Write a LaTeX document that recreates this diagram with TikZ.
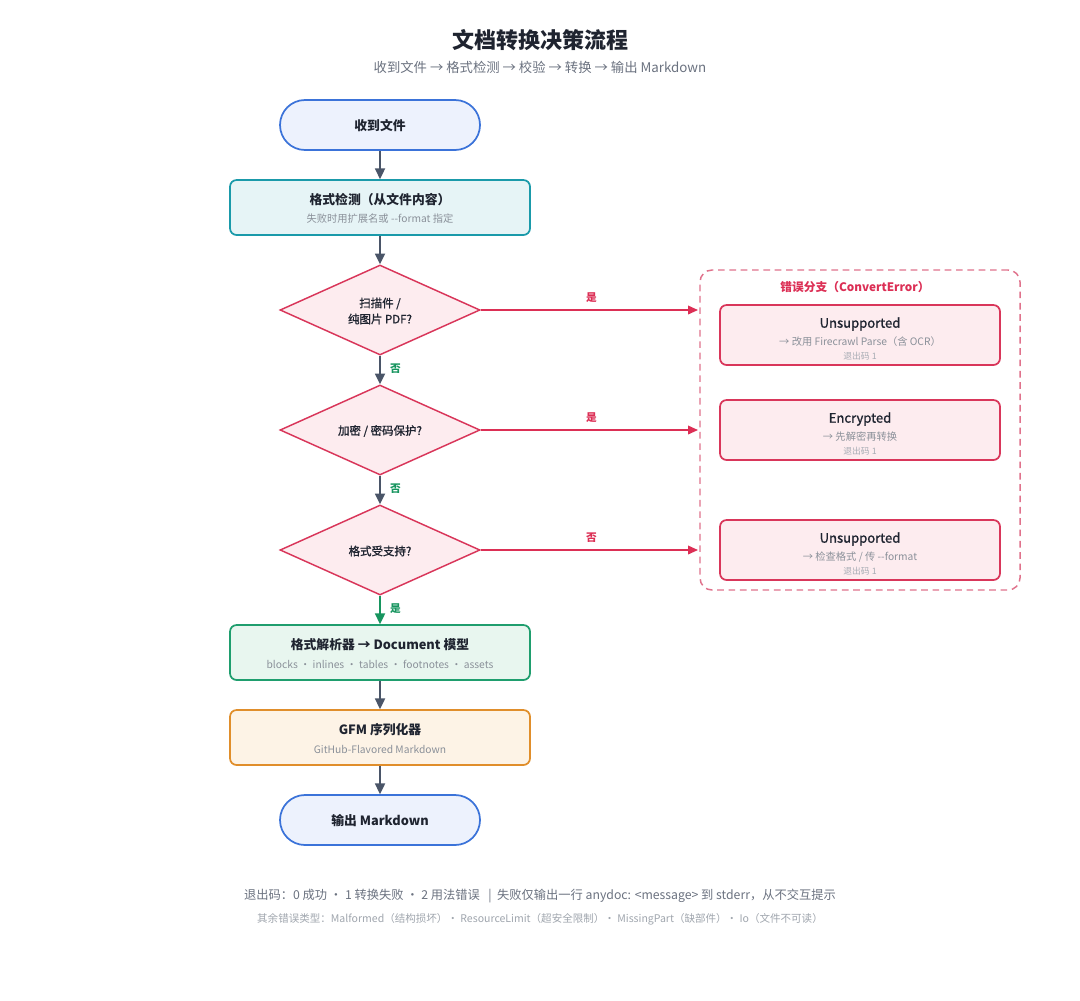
\documentclass[tikz,border=0pt]{standalone}
\usepackage{fontspec}
\setmainfont{Noto Sans CJK SC}
\newfontfamily\medfont[FakeBold=1.2]{Noto Sans CJK SC}
\usetikzlibrary{shapes.geometric,arrows.meta}
\definecolor{ink}{HTML}{1F2430}
\definecolor{subg}{HTML}{8A9099}
\definecolor{codeg}{HTML}{A8ADB5}
\definecolor{arrg}{HTML}{4A5568}
\definecolor{okg}{HTML}{17955F}
\definecolor{errr}{HTML}{DC2F55}
\definecolor{bluefill}{HTML}{EDF2FD}
\definecolor{blueline}{HTML}{3B73D9}
\definecolor{tealfill}{HTML}{E6F4F6}
\definecolor{tealline}{HTML}{1A9AAA}
\definecolor{pinkfill}{HTML}{FDECEF}
\definecolor{pinkline}{HTML}{D9365A}
\definecolor{greenfill}{HTML}{E8F6EF}
\definecolor{greenline}{HTML}{1F9E6E}
\definecolor{orfill}{HTML}{FDF3E6}
\definecolor{orline}{HTML}{E08E2B}
\definecolor{dashc}{HTML}{E0728C}
\definecolor{foot1}{HTML}{6B7280}
\definecolor{foot2}{HTML}{A0A6AE}
\tikzset{
  terminal/.style={draw=blueline,fill=bluefill,line width=1.3pt,rounded corners=18.75pt,minimum width=150pt,minimum height=37.5pt,inner sep=0pt},
  procbox/.style={line width=1.3pt,rounded corners=5pt,minimum width=225pt,minimum height=41.25pt,inner sep=0pt},
  decision/.style={draw=pinkline,fill=pinkfill,line width=1.1pt,diamond,aspect=2.22,minimum width=150pt,minimum height=67.5pt,inner sep=0pt},
  errbox/.style={draw=pinkline,fill=pinkfill,line width=1.3pt,rounded corners=5pt,minimum width=210pt,minimum height=45pt,inner sep=0pt},
  ttl/.style={text=ink,font=\bfseries\fontsize{9.6}{11}\selectfont,inner sep=0pt},
  ettl/.style={text=ink,font=\medfont\fontsize{9.8}{11}\selectfont,inner sep=0pt},
  subt/.style={text=subg,font=\fontsize{7.7}{9}\selectfont,inner sep=0pt},
  codet/.style={text=codeg,font=\fontsize{6.6}{8}\selectfont,inner sep=0pt},
  dtext/.style={text=ink,font=\medfont\fontsize{8.6}{12}\selectfont,align=center,inner sep=0pt},
  flow/.style={draw=arrg,line width=1.3pt,-{Triangle[length=8pt,width=7.5pt]}},
  okflow/.style={draw=okg,line width=1.3pt,-{Triangle[length=8pt,width=7.5pt]}},
  errflow/.style={draw=errr,line width=1.1pt,-{Triangle[length=7.5pt,width=6.5pt]}},
  oklab/.style={text=okg,font=\bfseries\fontsize{8}{9}\selectfont,inner sep=0pt},
  errlab/.style={text=errr,font=\bfseries\fontsize{8}{9}\selectfont,inner sep=0pt},
}
\begin{document}
\begin{tikzpicture}[x=0.75pt,y=-0.75pt]
\useasboundingbox[fill=white] (0,0) rectangle (1080,1000);
% title
\node[text=ink,font=\bfseries\fontsize{16.5}{19}\selectfont,inner sep=0pt] (title) at (540,40) {文档转换决策流程};
\node[text=foot1,font=\fontsize{10}{12}\selectfont,inner sep=0pt] (subtitle) at (540,67) {收到文件 → 格式检测 → 校验 → 转换 → 输出 Markdown};
% main column
\node[terminal] (start) at (380,125) {};
\node[ttl] (startT) at (380,126) {收到文件};
\node[procbox,draw=tealline,fill=tealfill] (detect) at (380,207.5) {};
\node[ttl] (detectT) at (380,200) {格式检测（从文件内容）};
\node[subt] (detectS) at (380,219) {失败时用扩展名或 -{}-format 指定};
\node[decision] (d1) at (380,310) {};
\node[dtext] (d1T) at (380,311) {扫描件 /\\纯图片 PDF?};
\node[decision] (d2) at (380,430) {};
\node[dtext] (d2T) at (380,431) {加密 / 密码保护?};
\node[decision] (d3) at (380,550) {};
\node[dtext] (d3T) at (380,551) {格式受支持?};
\node[procbox,draw=greenline,fill=greenfill] (parse) at (380,652.5) {};
\node[ttl] (parseT) at (380,645) {格式解析器 → Document 模型};
\node[subt] (parseS) at (380,664) {blocks · inlines · tables · footnotes · assets};
\node[procbox,draw=orline,fill=orfill] (gfm) at (380,737.5) {};
\node[ttl] (gfmT) at (380,730) {GFM 序列化器};
\node[subt] (gfmS) at (380,749) {GitHub-Flavored Markdown};
\node[terminal] (end) at (380,820) {};
\node[ttl] (endT) at (380,821) {输出 Markdown};
% main arrows
\draw[flow] (start) -- (detect);
\draw[flow] (detect) -- (d1);
\draw[flow] (d1) -- (d2) node[oklab,pos=0.45,right=7pt] (no1) {否};
\draw[flow] (d2) -- (d3) node[oklab,pos=0.45,right=7pt] (no2) {否};
\draw[okflow] (d3) -- (parse) node[pos=0.45,oklab,right=7pt] (yes3) {是};
\draw[flow] (parse) -- (gfm);
\draw[flow] (gfm) -- (end);
% error region
\node[draw=dashc,line width=1.1pt,dash pattern=on 5pt off 3.5pt,rounded corners=9pt,minimum width=240pt,minimum height=240pt,inner sep=0pt] (errreg) at (860,430) {};
\node[errlab,font=\bfseries\fontsize{8.8}{10}\selectfont] (errregT) at (855,287) {错误分支（ConvertError）};
\node[errbox] (e1) at (860,335) {};
\node[ettl] (e1T) at (860,324) {Unsupported};
\node[subt] (e1S) at (860,342) {→ 改用 Firecrawl Parse（含 OCR）};
\node[codet] (e1C) at (860,356) {退出码 1};
\node[errbox] (e2) at (860,430) {};
\node[ettl] (e2T) at (860,419) {Encrypted};
\node[subt] (e2S) at (860,437) {→ 先解密再转换};
\node[codet] (e2C) at (860,451) {退出码 1};
\node[errbox] (e3) at (860,550) {};
\node[ettl] (e3T) at (860,539) {Unsupported};
\node[subt] (e3S) at (860,557) {→ 检查格式 / 传 -{}-format};
\node[codet] (e3C) at (860,571) {退出码 1};
\coordinate (a1) at (698,310);
\coordinate (a2) at (698,430);
\coordinate (a3) at (698,550);
\draw[errflow] (d1.east) -- (a1) node[errlab,pos=0.51,above=5pt] (y1) {是};
\draw[errflow] (d2.east) -- (a2) node[errlab,pos=0.51,above=5pt] (y2) {是};
\draw[errflow] (d3.east) -- (a3) node[errlab,pos=0.51,above=5pt] (n3) {否};
% footer
\node[text=foot1,font=\fontsize{9.2}{11}\selectfont,inner sep=0pt] (foot1) at (540,896) {退出码：0 成功 · 1 转换失败 · 2 用法错误 \ \ |\ \ 失败仅输出一行 anydoc: <message> 到 stderr，从不交互提示};
\node[text=foot2,font=\fontsize{7.9}{10}\selectfont,inner sep=0pt] (foot2) at (540,919) {其余错误类型：Malformed（结构损坏）· ResourceLimit（超安全限制）· MissingPart（缺部件）· Io（文件不可读）};
\end{tikzpicture}
\end{document}
